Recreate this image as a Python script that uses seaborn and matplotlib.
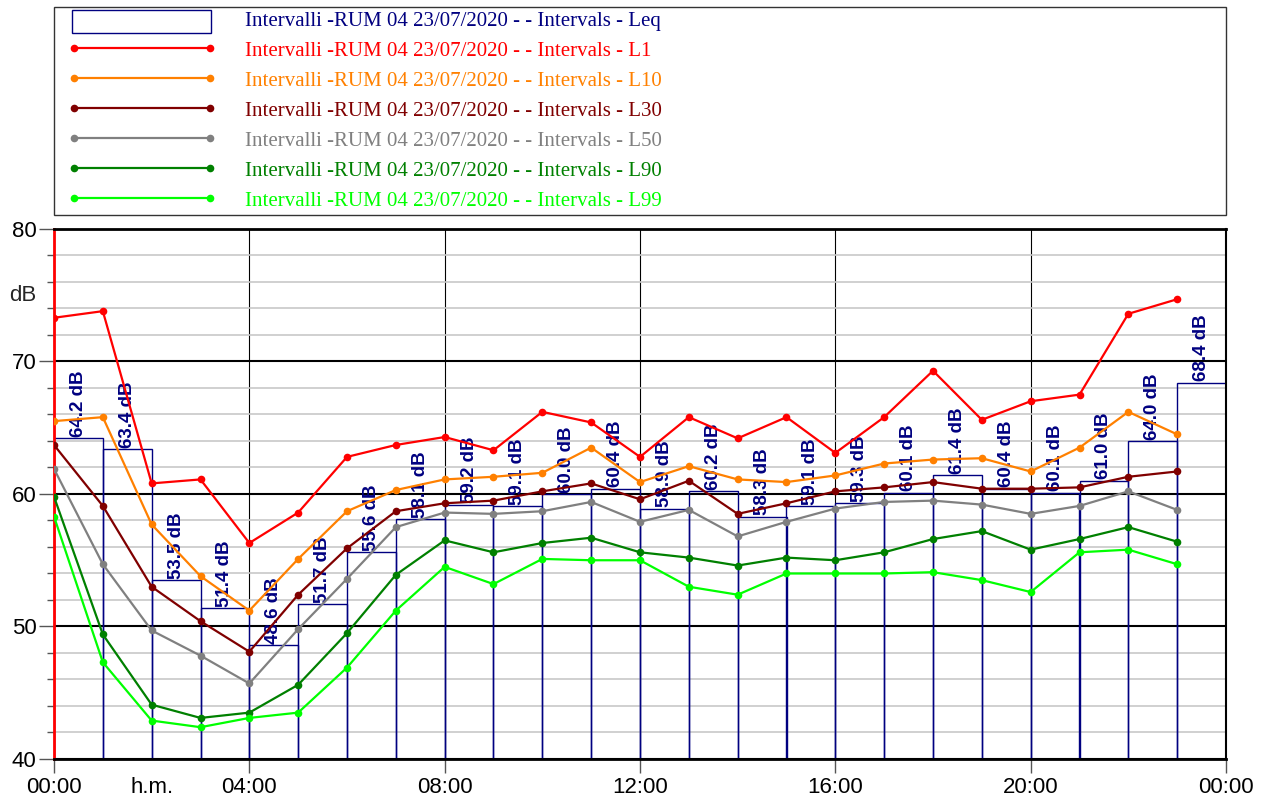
import numpy as np
import pandas as pd
import matplotlib
matplotlib.use("Agg")
import matplotlib.pyplot as plt
from matplotlib import font_manager
from matplotlib.lines import Line2D
from matplotlib.patches import Rectangle
from matplotlib.legend_handler import HandlerPatch
from matplotlib.ticker import MultipleLocator
import seaborn as sns

# ---- data -------------------------------------------------------------
hours = list(range(24))
tick_hours = [0, 4, 8, 12, 16, 20, 24]
tick_labels = ["00:00", "04:00", "08:00", "12:00", "16:00", "20:00", "00:00"]

leq = [64.2, 63.4, 53.5, 51.4, 48.6, 51.7, 55.6, 58.1, 59.2, 59.1, 60.0, 60.4,
       58.9, 60.2, 58.3, 59.1, 59.3, 60.1, 61.4, 60.4, 60.1, 61.0, 64.0, 68.4]
l1 = [73.3, 73.8, 60.8, 61.1, 56.3, 58.6, 62.8, 63.7, 64.3, 63.3, 66.2, 65.4,
      62.8, 65.8, 64.2, 65.8, 63.1, 65.8, 69.3, 65.6, 67.0, 67.5, 73.6, 74.7]
l10 = [65.5, 65.8, 57.7, 53.8, 51.2, 55.1, 58.7, 60.3, 61.1, 61.3, 61.6, 63.5,
       60.9, 62.1, 61.1, 60.9, 61.4, 62.3, 62.6, 62.7, 61.7, 63.5, 66.2, 64.5]
l30 = [63.7, 59.1, 53.0, 50.4, 48.1, 52.4, 55.9, 58.7, 59.3, 59.5, 60.2, 60.8,
       59.6, 61.0, 58.5, 59.3, 60.2, 60.5, 60.9, 60.4, 60.4, 60.5, 61.3, 61.7]
l50 = [61.9, 54.7, 49.7, 47.8, 45.7, 49.8, 53.6, 57.5, 58.6, 58.5, 58.7, 59.4,
       57.9, 58.8, 56.8, 57.9, 58.9, 59.4, 59.5, 59.2, 58.5, 59.1, 60.2, 58.8]
l90 = [59.8, 49.4, 44.1, 43.1, 43.5, 45.6, 49.5, 53.9, 56.5, 55.6, 56.3, 56.7,
       55.6, 55.2, 54.6, 55.2, 55.0, 55.6, 56.6, 57.2, 55.8, 56.6, 57.5, 56.4]
l99 = [58.3, 47.3, 42.9, 42.4, 43.1, 43.5, 46.9, 51.2, 54.5, 53.2, 55.1, 55.0,
       55.0, 53.0, 52.4, 54.0, 54.0, 54.0, 54.1, 53.5, 52.6, 55.6, 55.8, 54.7]

series_names = ["L1", "L10", "L30", "L50", "L90", "L99"]
series_values = [l1, l10, l30, l50, l90, l99]
series_colors = ["#ff0000", "#ff8000", "#800000", "#808080", "#008000", "#00ff00"]
navy = "#000080"
prefix = "Intervalli -RUM 04 23/07/2020 - - Intervals - "

# ---- style ------------------------------------------------------------
sns.set_theme(style="white")
plt.rcParams["font.family"] = ["Liberation Sans", "DejaVu Sans"]

installed = {f.name for f in font_manager.fontManager.ttflist}
if "Liberation Sans Narrow" in installed:
    label_font = dict(family="Liberation Sans Narrow", size=16, weight="bold")
else:
    label_font = dict(family="Liberation Sans", size=13.5, weight="bold")

W, H = 1265, 802
fig = plt.figure(figsize=(W / 100, H / 100), dpi=100)
ax = fig.add_axes([54 / W, 43 / H, 1172 / W, 530 / H])

# ---- hourly Leq bars --------------------------------------------------
bar_df = pd.DataFrame({"mid": np.array(hours) + 0.5, "Leq": leq})
sns.barplot(data=bar_df, x="mid", y="Leq", native_scale=True, width=1,
            fill=False, color=navy, linewidth=1.0, errorbar=None, ax=ax)
bars = ax.containers[0]
for p in bars:
    p.set_edgecolor(navy)
    p.set_zorder(1)
ax.bar_label(bars, fmt="%.1f dB", rotation=90, padding=1, color=navy,
             fontproperties=font_manager.FontProperties(**label_font), zorder=2)

# ---- percentile lines -------------------------------------------------
long_df = pd.concat(
    [pd.DataFrame({"hour": hours, "dB": v, "series": n})
     for n, v in zip(series_names, series_values)],
    ignore_index=True)
sns.lineplot(data=long_df, x="hour", y="dB", hue="series", hue_order=series_names,
             palette=dict(zip(series_names, series_colors)), marker="o",
             markersize=5.5, markeredgewidth=0, linewidth=1.6, legend=False,
             estimator=None, sort=False, ax=ax, zorder=4)

# ---- axes -------------------------------------------------------------
ax.set_xlim(0, 24)
ax.set_ylim(40, 80)
ax.set_xlabel("")
ax.set_ylabel("")
ax.set_xticks(tick_hours, labels=tick_labels)
ax.set_xticks([2], labels=["h.m."], minor=True)
ax.yaxis.set_major_locator(MultipleLocator(10))
ax.yaxis.set_minor_locator(MultipleLocator(2))

ax.set_axisbelow(True)
ax.grid(which="minor", axis="y", color="#c8c8c8", linewidth=1.2)
ax.grid(which="major", axis="y", color="black", linewidth=1.5)
ax.grid(which="major", axis="x", color="black", linewidth=0.8)

ax.tick_params(axis="both", which="both", labelsize=16, colors="#555555",
               labelcolor="black", direction="out")
ax.tick_params(axis="y", which="major", length=11, width=1, pad=1.5, left=True)
ax.tick_params(axis="y", which="minor", length=5, width=1, left=True)
ax.tick_params(axis="x", which="major", length=10, width=1, pad=3, bottom=True)
ax.tick_params(axis="x", which="minor", length=0, pad=13)

for side in ["top", "bottom"]:
    ax.spines[side].set_color("black")
    ax.spines[side].set_linewidth(2)
ax.spines["right"].set_color("black")
ax.spines["right"].set_linewidth(1.5)
ax.spines["left"].set_color("red")
ax.spines["left"].set_linewidth(2)

ax.annotate("dB", xy=(0, 75), xycoords=("axes fraction", "data"),
            xytext=(-12.5, 0), textcoords="offset points",
            ha="right", va="center", fontsize=16)

# ---- legend -----------------------------------------------------------
def leq_patch(legend, orig_handle, xdescent, ydescent, width, height, fontsize):
    w, h = width * 0.94, height * 1.6
    return Rectangle((-xdescent + (width - w) / 2,
                      -ydescent + (height - h) / 2 - 2.2), w, h)

handles = [Rectangle((0, 0), 1, 1, facecolor="white", edgecolor=navy, linewidth=1)]
handles += [Line2D([], [], color=c, marker="o", markersize=5.5, markeredgewidth=0,
                   linewidth=1.6) for c in series_colors]
labels = [prefix + "Leq"] + [prefix + n for n in series_names]

fig.patches.append(Rectangle((54 / W, 1 - 215 / H), 1172 / W, 208 / H,
                             transform=fig.transFigure, facecolor="none",
                             edgecolor="#333333", linewidth=1))
fig.legend(handles, labels, loc="upper left", bbox_to_anchor=(68 / W, 1 - 11 / H),
           frameon=False, borderpad=0, borderaxespad=0, numpoints=2,
           handlelength=7.1, handletextpad=1.4, labelspacing=0.5,
           prop=dict(family="Liberation Serif", size=15),
           labelcolor=[navy] + series_colors,
           handler_map={Rectangle: HandlerPatch(patch_func=leq_patch)})

fig.savefig("out.png", dpi=100)
